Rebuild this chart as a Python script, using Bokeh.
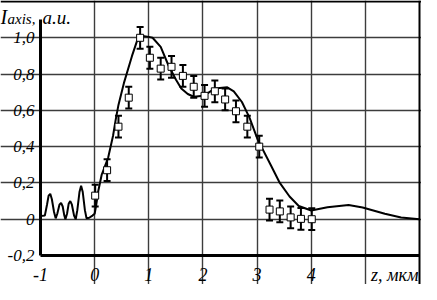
from bokeh.plotting import figure
from bokeh.models import (ColumnDataSource, Whisker, TeeHead, FixedTicker, Label,
                          LinearAxis, Grid)
from bokeh.core.properties import value
from bokeh.embed import file_html
from bokeh.resources import INLINE

# Theory curve
curve_x = [-1.0, -0.92, -0.88, -0.85, -0.82, -0.79, -0.75, -0.72, -0.69, -0.65, -0.62,
           -0.59, -0.56, -0.54, -0.51, -0.48, -0.45, -0.42, -0.38, -0.35, -0.32, -0.28,
           -0.25, -0.22, -0.18, -0.15, -0.10, -0.04, 0.0, 0.03, 0.07, 0.13, 0.25, 0.34,
           0.39, 0.44, 0.54, 0.69, 0.78, 0.89, 1.0, 1.07, 1.22, 1.36, 1.5, 1.6, 1.72,
           1.83, 2.01, 2.22, 2.45, 2.57, 2.72, 2.86, 3.01, 3.25, 3.42, 3.6, 3.77, 4.0,
           4.3, 4.69, 4.95, 5.36, 5.66, 6.0]
curve_y = [0.017, 0.02, 0.08, 0.13, 0.14, 0.11, 0.04, 0.005, 0.03, 0.08, 0.09,
           0.07, 0.02, 0.0, 0.03, 0.085, 0.10, 0.08, 0.02, 0.0, 0.05, 0.15,
           0.185, 0.15, 0.05, 0.005, 0.008, 0.02, 0.03, 0.08, 0.16, 0.245, 0.34, 0.46,
           0.55, 0.63, 0.75, 0.90, 0.98, 1.01, 1.005, 1.0, 0.95, 0.85, 0.77, 0.72, 0.69,
           0.675, 0.68, 0.72, 0.727, 0.705, 0.646, 0.56, 0.44, 0.30, 0.20, 0.125, 0.073, 0.048,
           0.066, 0.078, 0.065, 0.03, 0.01, 0.0]

# Experimental points with error bars
exp_x = [0.01, 0.23, 0.44, 0.63, 0.84, 1.02, 1.22, 1.42, 1.63, 1.83, 2.03,
         2.22, 2.41, 2.61, 2.82, 3.04, 3.23, 3.42, 3.62, 3.81, 4.01]
exp_y = [0.13, 0.27, 0.51, 0.67, 1.00, 0.89, 0.83, 0.84, 0.79, 0.73, 0.68,
         0.705, 0.66, 0.595, 0.51, 0.40, 0.053, 0.043, 0.01, 0.002, 0.0]
exp_err = [0.06] * len(exp_x)

x_ticks = [-1, 0, 1, 2, 3, 4, 5, 6]
x_tick_labels = ["-1", "0", "1", "2", "3", "4"]
y_ticks = [-0.2, 0.0, 0.2, 0.4, 0.6, 0.8, 1.0, 1.2]
y_tick_labels = ["-0,2", "0", "0,2", "0,4", "0,6", "0,8", "1,0"]
x_title = "z, мкм"
y_title = ["I", "axis,", "a.u."]

FONT = "Liberation Serif"
xmin, xmax = x_ticks[0], x_ticks[-1]
ymin, ymax = y_ticks[0], y_ticks[-1]

p = figure(width=421, height=284, x_range=(-1.7388, 6.0369), y_range=(-0.35984, 1.20551),
           output_backend="svg", toolbar_location=None,
           x_axis_location=None, y_axis_location=None)
p.min_border = 0
p.background_fill_color = "white"
p.border_fill_color = "white"
p.outline_line_color = None
p.grid.visible = False

# inner grid
p.add_layout(Grid(dimension=0, ticker=FixedTicker(ticks=x_ticks[1:-1]), bounds=(ymin, ymax),
                  grid_line_color="#3c3c3c", grid_line_width=1.4))
p.add_layout(Grid(dimension=1, ticker=FixedTicker(ticks=y_ticks[1:-1]), bounds=(xmin, xmax),
                  grid_line_color="#3c3c3c", grid_line_width=1.4))
# top and right borders
p.add_layout(Grid(dimension=0, ticker=FixedTicker(ticks=[xmax]), bounds=(ymin, ymax),
                  grid_line_color="black", grid_line_width=2))
p.add_layout(Grid(dimension=1, ticker=FixedTicker(ticks=[ymax]), bounds=(xmin, xmax),
                  grid_line_color="black", grid_line_width=2))

# axes (lines only; labels drawn as text below)
ya = LinearAxis(fixed_location=xmin, ticker=FixedTicker(ticks=[]), bounds=(ymin, 1.1),
                axis_line_width=3, axis_line_color="black",
                major_tick_out=0, major_tick_in=0, minor_tick_out=0, minor_tick_in=0)
xa = LinearAxis(fixed_location=ymin, ticker=FixedTicker(ticks=[]), bounds=(xmin, xmax),
                axis_line_width=3, axis_line_color="black",
                major_tick_out=0, major_tick_in=0, minor_tick_out=0, minor_tick_in=0)
p.add_layout(ya, "left")
p.add_layout(xa, "below")

p.line(curve_x, curve_y, line_color="black", line_width=2)

upper = [y + e for y, e in zip(exp_y, exp_err)]
lower = [y - e for y, e in zip(exp_y, exp_err)]
src = ColumnDataSource(dict(x=exp_x, y=exp_y, upper=upper, lower=lower))
p.add_layout(Whisker(base="x", upper="upper", lower="lower", source=src,
                     line_color="black", line_width=2,
                     upper_head=TeeHead(size=7, line_width=2, line_color="black"),
                     lower_head=TeeHead(size=7, line_width=2, line_color="black")))
p.scatter("x", "y", source=src, marker="square", size=7,
          fill_color="white", line_color="black", line_width=1)

# tick labels
p.text(x=[xmin] * len(y_tick_labels), y=y_ticks[:len(y_tick_labels)], text=y_tick_labels,
       x_offset=-6, text_align="right", text_baseline="middle",
       text_font=value(FONT), text_font_style="italic", text_font_size="17px",
       text_color="black")
p.text(x=x_ticks[:len(x_tick_labels)], y=[ymin] * len(x_tick_labels), text=x_tick_labels,
       y_offset=19, text_align="center", text_baseline="alphabetic",
       text_font=value(FONT), text_font_style="italic", text_font_size="18px",
       text_color="black")

# axis titles
p.add_layout(Label(x=xmax, y=ymin, x_offset=-1, y_offset=-19, text=x_title, text_align="right",
                   text_baseline="alphabetic", text_font=FONT, text_font_style="italic",
                   text_font_size="18px", text_color="black"))
p.add_layout(Label(x=xmin, y=ymax, x_offset=-40, y_offset=-16, text=y_title[0],
                   text_baseline="alphabetic", text_font=FONT, text_font_style="italic",
                   text_font_size="20px", text_color="black"))
p.add_layout(Label(x=xmin, y=ymax, x_offset=-33, y_offset=-18, text=y_title[1],
                   text_baseline="alphabetic", text_font=FONT, text_font_style="italic",
                   text_font_size="15px", text_color="black"))
p.add_layout(Label(x=xmin, y=ymax, x_offset=2, y_offset=-16, text=y_title[2],
                   text_baseline="alphabetic", text_font=FONT, text_font_style="italic",
                   text_font_size="19px", text_color="black"))

open("out.html", "w").write(file_html(p, INLINE))
